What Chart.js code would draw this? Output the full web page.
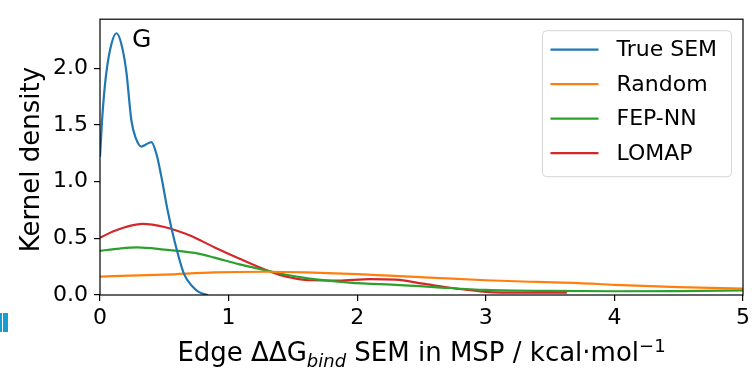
<!DOCTYPE html>
<html>
<head>
<meta charset="utf-8">
<script src="https://cdn.jsdelivr.net/npm/chart.js@4.4.0/dist/chart.umd.min.js"></script>
<style>
  html, body { margin: 0; padding: 0; background: #fff; }
  #wrap { position: relative; width: 756px; height: 375px; overflow: hidden; }
  canvas { display: block; }
  .edge { position: absolute; background: #159fd0; }
</style>
</head>
<body>
<div id="wrap">
  <canvas id="c" width="756" height="375"></canvas>
  <div class="edge" style="left:0;top:313px;width:2px;height:19px"></div>
  <div class="edge" style="left:3px;top:313px;width:5px;height:19px"></div>
</div>
<script>
// Kernel density estimates of edge ΔΔG_bind SEM for each network design
const seriesNames = ['True SEM', 'Random', 'FEP-NN', 'LOMAP'];
const seriesColors = ['#1f77b4', '#ff7f0e', '#2ca02c', '#d62728'];

const trueSemX = [0, 0.016, 0.03, 0.05, 0.09, 0.128, 0.165, 0.205, 0.244, 0.28, 0.322, 0.36, 0.40, 0.44, 0.477, 0.524, 0.581, 0.653, 0.723, 0.77, 0.84];
const trueSemY = [1.22, 1.54, 1.75, 1.97, 2.22, 2.31, 2.22, 1.97, 1.54, 1.38, 1.31, 1.33, 1.35, 1.24, 1.045, 0.757, 0.47, 0.186, 0.07, 0.025, 0.0];

const randomX = [0, 0.5, 0.89, 1.3, 1.6, 2.0, 2.25, 2.6, 3.0, 3.4, 3.72, 4.0, 4.5, 5.0];
const randomY = [0.163, 0.18, 0.20, 0.205, 0.20, 0.185, 0.171, 0.152, 0.13, 0.115, 0.105, 0.09, 0.07, 0.057];

const fepNnX = [0, 0.15, 0.29, 0.5, 0.775, 0.89, 1.086, 1.306, 1.397, 1.63, 1.94, 2.33, 2.6, 3.0, 3.5, 4.0, 4.5, 5.0];
const fepNnY = [0.39, 0.41, 0.42, 0.40, 0.363, 0.33, 0.27, 0.214, 0.19, 0.145, 0.11, 0.088, 0.07, 0.045, 0.036, 0.033, 0.035, 0.04];

const lomapX = [0, 0.1, 0.2, 0.33, 0.5, 0.7, 0.775, 0.892, 1.086, 1.306, 1.397, 1.5, 1.63, 1.85, 2.1, 2.3, 2.51, 2.77, 3.0, 3.3, 3.63];
const lomapY = [0.505, 0.56, 0.60, 0.628, 0.60, 0.525, 0.485, 0.42, 0.32, 0.214, 0.178, 0.15, 0.13, 0.128, 0.14, 0.135, 0.10, 0.057, 0.028, 0.02, 0.02];

const xTicks = [0, 1, 2, 3, 4, 5];
const yTicks = [0.0, 0.5, 1.0, 1.5, 2.0];
const panelLetter = 'G';
const yTitle = 'Kernel density';

const FONT = '"DejaVu Sans", "Liberation Sans", sans-serif';

function toPoints(xs, ys) {
  return xs.map((x, i) => ({ x: x, y: ys[i] }));
}

const seriesData = [
  toPoints(trueSemX, trueSemY),
  toPoints(randomX, randomY),
  toPoints(fepNnX, fepNnY),
  toPoints(lomapX, lomapY)
];

// Spines, panel letter, legend and axis titles
const decor = {
  id: 'decor',
  afterDatasetsDraw(chart) {
    const { ctx, chartArea: a } = chart;
    ctx.save();

    // frame
    ctx.strokeStyle = '#000';
    ctx.lineWidth = 1.2;
    ctx.strokeRect(a.left, a.top, a.right - a.left, a.bottom - a.top);

    // panel letter
    ctx.fillStyle = '#000';
    ctx.font = '25px ' + FONT;
    ctx.textAlign = 'left';
    ctx.textBaseline = 'alphabetic';
    ctx.fillText(panelLetter, a.left + 32, a.top + 28);

    // legend
    const bw = 189, bh = 146;
    const bx = a.right - 11.5 - bw, by = a.top + 11.5;
    ctx.beginPath();
    ctx.roundRect(bx, by, bw, bh, 4);
    ctx.fillStyle = 'rgba(255,255,255,0.8)';
    ctx.fill();
    ctx.strokeStyle = '#d6d6d6';
    ctx.lineWidth = 1;
    ctx.stroke();
    ctx.font = '22px ' + FONT;
    ctx.textBaseline = 'middle';
    chart.data.datasets.forEach((ds, i) => {
      const ry = by + 19 + i * 34.5;
      ctx.strokeStyle = ds.borderColor;
      ctx.lineWidth = 2.2;
      ctx.beginPath();
      ctx.moveTo(bx + 8, ry);
      ctx.lineTo(bx + 56, ry);
      ctx.stroke();
      ctx.fillStyle = '#000';
      ctx.fillText(ds.label, bx + 74, ry + 1);
    });

    // x-axis title with subscript and superscript
    const parts = [
      { t: 'Edge ΔΔG', f: '26px ' + FONT, dy: 0 },
      { t: 'bind', f: 'italic 18px ' + FONT, dy: 6 },
      { t: ' SEM in MSP / kcal·mol', f: '26px ' + FONT, dy: 0 },
      { t: '−1', f: '18px ' + FONT, dy: -9 }
    ];
    let total = 0;
    parts.forEach(p => { ctx.font = p.f; p.w = ctx.measureText(p.t).width; total += p.w; });
    let x = (a.left + a.right) / 2 - total / 2;
    const base = 361;
    ctx.textBaseline = 'alphabetic';
    ctx.textAlign = 'left';
    ctx.fillStyle = '#000';
    parts.forEach(p => { ctx.font = p.f; ctx.fillText(p.t, x, base + p.dy); x += p.w; });

    // y-axis title
    ctx.save();
    ctx.translate(39, (a.top + a.bottom) / 2 + 2.5);
    ctx.rotate(-Math.PI / 2);
    ctx.font = '26px ' + FONT;
    ctx.textAlign = 'center';
    ctx.textBaseline = 'alphabetic';
    ctx.fillText(yTitle, 0, 0);
    ctx.restore();

    ctx.restore();
  }
};

new Chart(document.getElementById('c'), {
  type: 'line',
  data: {
    datasets: seriesNames.map((name, i) => ({
      label: name,
      data: seriesData[i],
      borderColor: seriesColors[i],
      backgroundColor: seriesColors[i],
      borderWidth: 2.2,
      pointRadius: 0,
      fill: false,
      cubicInterpolationMode: 'monotone'
    }))
  },
  options: {
    responsive: false,
    animation: false,
    devicePixelRatio: 1,
    layout: { padding: { top: 12, right: 13, left: 0, bottom: 0 } },
    plugins: { legend: { display: false }, tooltip: { enabled: false } },
    scales: {
      x: {
        type: 'linear',
        min: 0,
        max: 5,
        afterFit: s => { s.height = 80; },
        afterBuildTicks: s => { s.ticks = xTicks.map(v => ({ value: v })); },
        border: { display: false },
        grid: { display: true, drawOnChartArea: false, drawTicks: true, tickLength: 6, color: '#000', lineWidth: 1.2 },
        ticks: { color: '#000', font: { family: FONT, size: 22 }, padding: 4, maxRotation: 0, callback: v => String(v) }
      },
      y: {
        type: 'linear',
        min: 0,
        max: 2.434,
        afterFit: s => { s.width = 100; },
        afterBuildTicks: s => { s.ticks = yTicks.map(v => ({ value: v })); },
        border: { display: false },
        grid: { display: true, drawOnChartArea: false, drawTicks: true, tickLength: 6, color: '#000', lineWidth: 1.2 },
        ticks: { color: '#000', font: { family: FONT, size: 22 }, padding: 6, callback: v => v.toFixed(1) }
      }
    }
  },
  plugins: [decor]
});
</script>
</body>
</html>
